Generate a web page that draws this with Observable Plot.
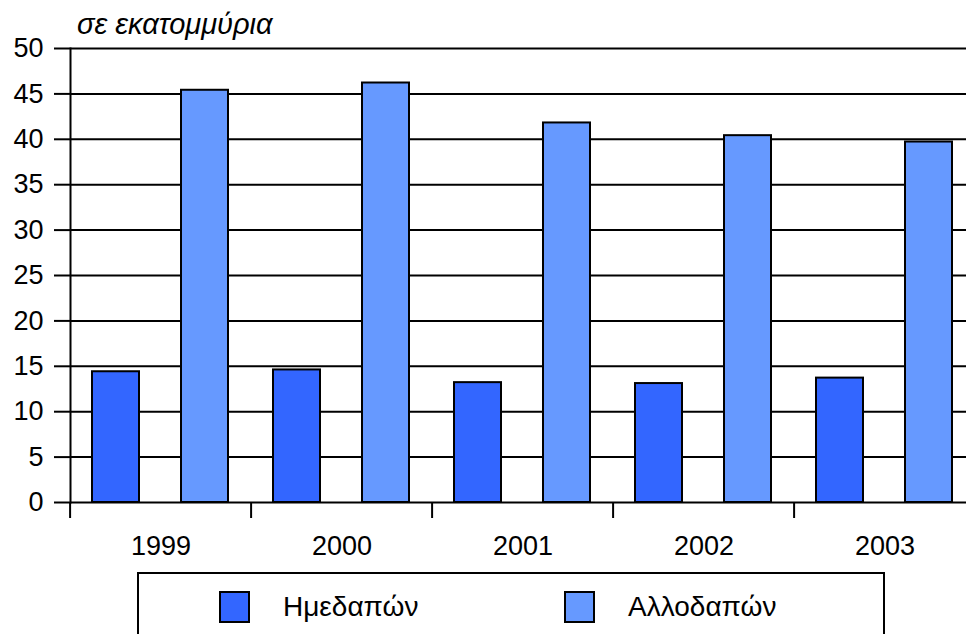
<!DOCTYPE html>
<html>
<head>
<meta charset="utf-8">
<script src="https://cdn.jsdelivr.net/npm/d3@7"></script>
<script src="https://cdn.jsdelivr.net/npm/@observablehq/plot@0.6"></script>
<style>
  html, body { margin: 0; padding: 0; background: white; overflow: hidden; }
  #wrap { position: relative; width: 966px; height: 634px; overflow: hidden; font-family: 'Liberation Sans', Arial, sans-serif; }
  #chart svg { max-width: none !important; }
  #title { position: absolute; left: 77px; top: 10px; font-size: 29px; font-style: italic; line-height: 29px; color: black; }
  #legend { position: absolute; left: 137px; top: 572px; width: 748px; height: 90px; border: 2px solid black; box-sizing: border-box; }
  .sw { position: absolute; top: 17px; width: 31px; height: 32px; border: 2px solid black; box-sizing: border-box; }
  .lt { position: absolute; top: 19px; font-size: 28px; line-height: 28px; color: black; }
</style>
</head>
<body>
<div id="wrap">
  <div id="chart"></div>
  <div id="title"></div>
  <div id="legend"></div>
</div>
<script>
const years = ["1999", "2000", "2001", "2002", "2003"];
const series = ["Ημεδαπών", "Αλλοδαπών"];
const domestic = [14.4, 14.6, 13.2, 13.1, 13.7];
const foreign = [45.4, 46.2, 41.8, 40.4, 39.7];
const colors = ["#3366FF", "#6699FF"];
const yTicks = [0, 5, 10, 15, 20, 25, 30, 35, 40, 45, 50];
const unitLabel = "σε εκατομμύρια";

const data = years.flatMap((yr, i) => [
  {year: yr, series: series[0], value: domestic[i]},
  {year: yr, series: series[1], value: foreign[i]}
]);

const W = 977, marginLeft = 68, marginRight = 0;
const groupW = (W - marginLeft - marginRight) / years.length;

const chart = Plot.plot({
  width: W,
  height: 572,
  marginLeft,
  marginRight,
  marginTop: 48,
  marginBottom: 70,
  style: {fontFamily: "'Liberation Sans', Arial, sans-serif", fontSize: "27px", color: "black", background: "white", overflow: "visible", maxWidth: "none"},
  fx: {domain: years, padding: 0, label: null},
  x: {domain: series, paddingInner: 0.47, paddingOuter: 0.25, axis: null},
  y: {domain: [0, 50], label: null},
  color: {domain: series, range: colors},
  marks: [
    Plot.gridY(yTicks, {stroke: "black", strokeOpacity: 1, strokeWidth: 2}),
    Plot.axisY(yTicks, {tickSize: 16, tickPadding: 11, strokeWidth: 2, label: null}),
    Plot.frame({anchor: "left", facetAnchor: "left", strokeWidth: 2}),
    Plot.axisFx({anchor: "bottom", tickSize: 16, tickFormat: () => "", dx: -groupW / 2, strokeWidth: 2, label: null}),
    Plot.axisFx({anchor: "bottom", tickSize: 0, tickPadding: 33, label: null}),
    Plot.barY(data, {fx: "year", x: "series", y: "value", fill: "series", stroke: "black", strokeWidth: 2})
  ]
});
document.getElementById("chart").appendChild(chart);
document.getElementById("title").textContent = unitLabel;

const legend = document.getElementById("legend");
const swLeft = [80, 425];
const txtLeft = [144, 489];
series.forEach((s, i) => {
  const sw = document.createElement("div");
  sw.className = "sw";
  sw.style.left = swLeft[i] + "px";
  sw.style.background = colors[i];
  legend.appendChild(sw);
  const t = document.createElement("div");
  t.className = "lt";
  t.style.left = txtLeft[i] + "px";
  t.textContent = s;
  legend.appendChild(t);
});
</script>
</body>
</html>
